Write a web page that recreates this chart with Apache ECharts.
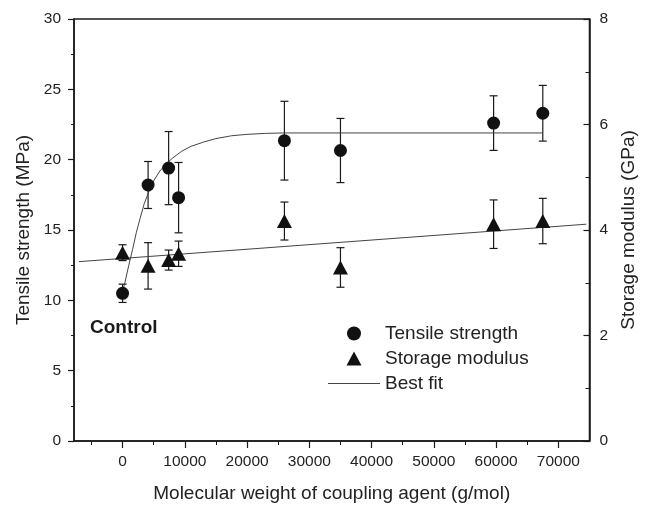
<!DOCTYPE html>
<html>
<head>
<meta charset="utf-8">
<script src="https://cdn.jsdelivr.net/npm/echarts@6/dist/echarts.min.js"></script>
<style>
html,body{margin:0;padding:0;background:#fff;}
#chart{width:646px;height:508px;}
</style>
</head>
<body>
<div id="chart"></div>
<script>
// ---- data ----
var molWeight = [0, 4100, 7400, 9000, 26000, 35000, 59600, 67500];
var tensile = [10.5, 18.2, 19.4, 17.3, 21.35, 20.65, 22.6, 23.3];
var tensileErr = [0.65, 1.67, 2.6, 2.5, 2.8, 2.28, 1.94, 1.98];
var modulus = [3.57, 3.32, 3.43, 3.55, 4.17, 3.29, 4.11, 4.17];
var modulusErr = [0.15, 0.44, 0.19, 0.24, 0.36, 0.375, 0.46, 0.43];

// best fit curves
var fitTensileX = [0, 400, 1000, 1600, 2200, 2800, 3500, 4200, 5000, 6000, 7000, 8000, 9500, 11000, 13000, 15000, 17500, 20000, 23000, 26000, 67500];
var fitTensileY = [10.6, 11.3, 12.5, 13.6, 14.8, 15.8, 16.9, 17.7, 18.5, 19.2, 19.7, 20.1, 20.6, 20.95, 21.25, 21.5, 21.7, 21.8, 21.87, 21.9, 21.9];
var fitModulusX = [-7000, 74500];
var fitModulusY = [3.40, 4.11];

var xMajorTicks = [0, 10000, 20000, 30000, 40000, 50000, 60000, 70000];
var xMinorTicks = [-5000, 5000, 15000, 25000, 35000, 45000, 55000, 65000];

// ---- build chart ----
var FONT = 'Liberation Sans, Arial, sans-serif';
var INK = '#1a1a1a';

function zip(xs, ys) { return xs.map(function (x, i) { return [x, ys[i]]; }); }
function zip3(xs, ys, es) { return xs.map(function (x, i) { return [x, ys[i], es[i]]; }); }

function errorBarRender(params, api) {
  var x = api.value(0), y = api.value(1), e = api.value(2);
  var top = api.coord([x, y + e]);
  var bot = api.coord([x, y - e]);
  var hw = 4;
  var st = { stroke: INK, lineWidth: 1.2 };
  return {
    type: 'group',
    children: [
      { type: 'line', shape: { x1: top[0], y1: top[1], x2: bot[0], y2: bot[1] }, style: st },
      { type: 'line', shape: { x1: top[0] - hw, y1: top[1], x2: top[0] + hw, y2: top[1] }, style: st },
      { type: 'line', shape: { x1: bot[0] - hw, y1: bot[1], x2: bot[0] + hw, y2: bot[1] }, style: st }
    ]
  };
}

var chart = echarts.init(document.getElementById('chart'), null, { renderer: 'canvas' });
var option = {
  animation: false,
  backgroundColor: '#fff',
  textStyle: { fontFamily: FONT },
  grid: { left: 74, right: 48, top: 19, bottom: 63, show: true, borderColor: INK, borderWidth: 1.5, containLabel: false },
  legend: {
    data: [
      { name: 'Tensile strength', icon: 'circle' },
      { name: 'Storage modulus', icon: 'path://M7.5,0 L15,14 L0,14 Z' },
      { name: 'Best fit', icon: 'path://M0,0 H52 V1 H0 Z', itemStyle: { color: '#444' } }
    ],
    orient: 'vertical',
    left: 328,
    top: 324,
    itemWidth: 52,
    itemHeight: 14,
    itemGap: 6,
    textStyle: { fontSize: 19, color: '#222', fontFamily: FONT },
    padding: 0
  },
  xAxis: [
    {
      type: 'value', min: -7800, max: 75000, position: 'bottom',
      name: 'Molecular weight of coupling agent (g/mol)',
      nameLocation: 'middle', nameGap: 43,
      nameTextStyle: { fontSize: 19, color: '#222', fontFamily: FONT },
      axisLine: { show: true, onZero: false, lineStyle: { color: INK, width: 1.5 } },
      axisTick: { show: true, inside: false, length: 7, customValues: xMajorTicks, lineStyle: { color: INK, width: 1.2 } },
      axisLabel: { show: true, customValues: xMajorTicks, fontSize: 15.5, color: '#222', margin: 13, fontFamily: FONT,
        formatter: function (v) { return String(v); } },
      splitLine: { show: false }
    },
    {
      type: 'value', min: -7800, max: 75000, position: 'bottom',
      axisLine: { show: false },
      axisTick: { show: true, inside: false, length: 4, customValues: xMinorTicks, lineStyle: { color: INK, width: 1 } },
      axisLabel: { show: false },
      splitLine: { show: false }
    }
  ],
  yAxis: [
    {
      type: 'value', min: 0, max: 30, interval: 5, position: 'left',
      name: 'Tensile strength (MPa)', nameLocation: 'middle', nameGap: 38,
      nameTextStyle: { fontSize: 19, color: '#222', fontFamily: FONT },
      axisLine: { show: true, onZero: false, lineStyle: { color: INK, width: 1.5 } },
      axisTick: { show: true, inside: false, length: 6, lineStyle: { color: INK, width: 1.2 } },
      minorTick: { show: true, splitNumber: 2, length: 3, lineStyle: { color: INK, width: 1 } },
      axisLabel: { fontSize: 15.5, color: '#222', margin: 13, fontFamily: FONT },
      splitLine: { show: false }, minorSplitLine: { show: false }
    },
    {
      type: 'value', min: 0, max: 8, interval: 2, position: 'right',
      name: 'Storage modulus (GPa)', nameLocation: 'middle', nameGap: 25,
      nameTextStyle: { fontSize: 19, color: '#222', fontFamily: FONT },
      axisLine: { show: true, onZero: false, lineStyle: { color: INK, width: 1.5 } },
      axisTick: { show: true, inside: true, length: 6, lineStyle: { color: INK, width: 1.2 } },
      minorTick: { show: true, splitNumber: 2, length: 4, lineStyle: { color: INK, width: 1 } },
      axisLabel: { fontSize: 15.5, color: '#222', margin: 10, fontFamily: FONT },
      splitLine: { show: false }, minorSplitLine: { show: false }
    }
  ],
  graphic: [
    { type: 'text', left: 90, top: 318, style: { text: 'Control', font: 'bold 19px ' + FONT, fill: '#1a1a1a' } }
  ],
  series: [
    {
      name: 'tensileErr', type: 'custom', xAxisIndex: 0, yAxisIndex: 0, z: 1,
      renderItem: errorBarRender, encode: { x: 0, y: 1 },
      data: zip3(molWeight, tensile, tensileErr), silent: true
    },
    {
      name: 'modulusErr', type: 'custom', xAxisIndex: 0, yAxisIndex: 1, z: 1,
      renderItem: errorBarRender, encode: { x: 0, y: 1 },
      data: zip3(molWeight, modulus, modulusErr), silent: true
    },
    {
      name: 'Best fit', type: 'line', xAxisIndex: 0, yAxisIndex: 0, z: 2,
      data: zip(fitTensileX, fitTensileY), symbol: 'none', smooth: false,
      lineStyle: { color: '#444', width: 1 }, itemStyle: { color: '#444' }
    },
    {
      name: 'Best fit', type: 'line', xAxisIndex: 0, yAxisIndex: 1, z: 2,
      data: zip(fitModulusX, fitModulusY), symbol: 'none',
      lineStyle: { color: '#444', width: 1 }, itemStyle: { color: '#444' }
    },
    {
      name: 'Tensile strength', type: 'scatter', xAxisIndex: 0, yAxisIndex: 0, z: 3,
      data: zip(molWeight, tensile), symbol: 'circle', symbolSize: 13,
      itemStyle: { color: '#111', opacity: 1 }
    },
    {
      name: 'Storage modulus', type: 'scatter', xAxisIndex: 0, yAxisIndex: 1, z: 3,
      data: zip(molWeight, modulus), symbol: 'triangle', symbolSize: [15, 14],
      itemStyle: { color: '#111', opacity: 1 }
    }
  ]
};
chart.setOption(option);
</script>
</body>
</html>
